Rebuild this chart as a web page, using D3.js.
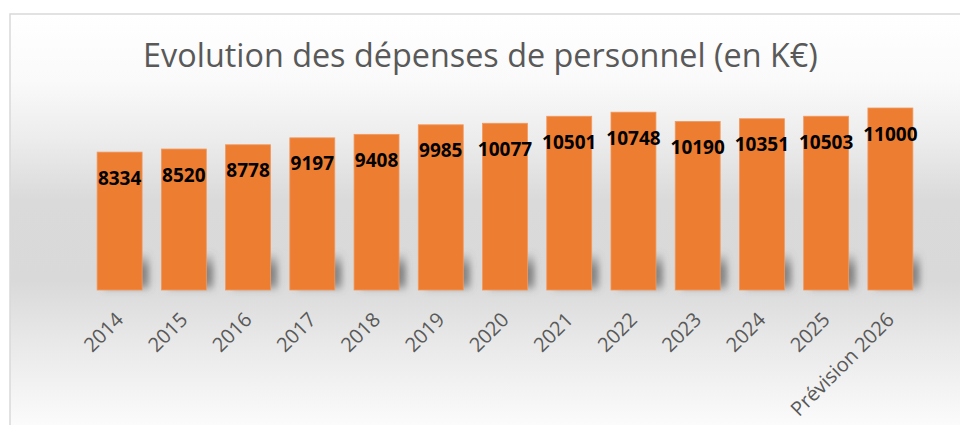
<!DOCTYPE html>
<html>
<head>
<meta charset="utf-8">
<script src="https://cdn.jsdelivr.net/npm/d3@7"></script>
<style>
  html, body { margin: 0; padding: 0; background: #ffffff; }
  svg { display: block; }
</style>
</head>
<body>
<svg id="chart" width="960" height="425"></svg>
<script>
// ---- Data ----
const categories = ["2014", "2015", "2016", "2017", "2018", "2019", "2020",
                    "2021", "2022", "2023", "2024", "2025", "Prévision 2026"];
const values = [8334, 8520, 8778, 9197, 9408, 9985, 10077,
                10501, 10748, 10190, 10351, 10503, 11000];
const titleText = "Evolution des dépenses de personnel (en K€)";

// ---- Layout ----
const W = 960, H = 425;
const svg = d3.select("#chart");
const defs = svg.append("defs");

// background gradient
const bg = defs.append("linearGradient").attr("id", "bgGrad")
  .attr("gradientUnits", "userSpaceOnUse")
  .attr("x1", 0).attr("y1", 14).attr("x2", 0).attr("y2", 425);
[[14, "#ffffff"], [80, "#fafafa"], [140, "#ececec"], [200, "#dadada"],
 [280, "#d9d9d9"], [340, "#e8e8e8"], [425, "#fbfbfb"]].forEach(([yy, c]) => {
  bg.append("stop").attr("offset", ((yy - 14) / (425 - 14))).attr("stop-color", c);
});

// shadow gradient + blur
const sg = defs.append("linearGradient").attr("id", "shGrad")
  .attr("x1", 0).attr("y1", 0).attr("x2", 0).attr("y2", 1);
sg.append("stop").attr("offset", 0).attr("stop-color", "#666666").attr("stop-opacity", 0);
sg.append("stop").attr("offset", 0.45).attr("stop-color", "#666666").attr("stop-opacity", 0.75);
sg.append("stop").attr("offset", 0.8).attr("stop-color", "#666666").attr("stop-opacity", 0.7);
sg.append("stop").attr("offset", 1).attr("stop-color", "#666666").attr("stop-opacity", 0.25);
defs.append("filter").attr("id", "blur").attr("x", "-50%").attr("y", "-50%")
  .attr("width", "200%").attr("height", "200%")
  .append("feGaussianBlur").attr("stdDeviation", 3);

// chart area
svg.append("rect").attr("x", 10).attr("y", 14).attr("width", W + 10).attr("height", H + 20)
  .attr("fill", "url(#bgGrad)").attr("stroke", "#d9d9d9").attr("stroke-width", 1.5);

// scales
const x = d3.scaleBand().domain(categories).range([87.5, 922.5])
  .paddingInner(0.3).paddingOuter(0.15);
const y = d3.scaleLinear().domain([0, 11000]).range([290, 108]);

// shadows
svg.append("g").attr("filter", "url(#blur)")
  .selectAll("rect").data(values).join("rect")
  .attr("x", (d, i) => x(categories[i]) + 7)
  .attr("y", 252)
  .attr("width", x.bandwidth())
  .attr("height", y(0) - 252)
  .attr("fill", "url(#shGrad)");

// bars
svg.append("g").selectAll("rect").data(values).join("rect")
  .attr("x", (d, i) => x(categories[i]))
  .attr("y", d => y(d))
  .attr("width", x.bandwidth())
  .attr("height", d => y(0) - y(d))
  .attr("fill", "#ED7D31")
  .attr("stroke", "#F19A60").attr("stroke-width", 0.8);

// value labels
svg.append("g").selectAll("text").data(values).join("text")
  .attr("x", (d, i) => x(categories[i]) + x.bandwidth() / 2)
  .attr("y", d => y(d) + 26)
  .attr("dy", "0.35em")
  .attr("text-anchor", "middle")
  .attr("font-family", "'Open Sans', sans-serif")
  .attr("font-weight", "bold")
  .attr("font-size", "19px")
  .attr("fill", "#000000")
  .text(d => d);

// x axis (labels only)
const xAxis = d3.axisBottom(x).tickSize(0).tickPadding(0);
const gx = svg.append("g").attr("transform", "translate(0,290)").call(xAxis);
gx.select(".domain").remove();
gx.selectAll("text")
  .attr("font-family", "'Open Sans', sans-serif")
  .attr("font-size", "20px")
  .attr("fill", "#595959")
  .attr("text-anchor", "end")
  .attr("dy", 0)
  .attr("y", 0)
  .attr("transform", "translate(5,31) rotate(-45)");

// title
const title = svg.append("text")
  .attr("x", 480.5).attr("y", 66.7)
  .attr("text-anchor", "middle")
  .attr("font-family", "'Open Sans', sans-serif")
  .attr("font-size", "30px")
  .attr("fill", "#595959")
  .text(titleText);
const tw = title.node().getComputedTextLength();
title.attr("font-size", (30 * 675 / tw).toFixed(2) + "px");
</script>
</body>
</html>
